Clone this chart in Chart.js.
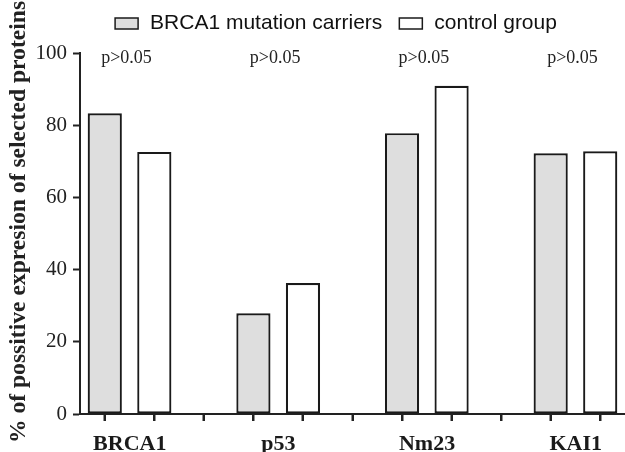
<!DOCTYPE html>
<html>
<head>
<meta charset="utf-8">
<script src="https://cdn.jsdelivr.net/npm/chart.js@4"></script>
<style>
  html, body { margin: 0; padding: 0; background: #fff; }
  #wrap { width: 625px; height: 452px; }
</style>
</head>
<body>
<div id="wrap"><canvas id="bar-chart"></canvas></div>
<script>
const groups = ["BRCA1", "p53", "Nm23", "KAI1"];
const carriers = [83.3, 27.9, 77.8, 72.2];
const controls = [72.6, 36.3, 90.9, 72.8];
const pValues = ["p>0.05", "p>0.05", "p>0.05", "p>0.05"];
const yTicks = [0, 20, 40, 60, 80, 100];

// each group takes 3 slots: carriers, control, gap (last gap dropped)
const slots = [];
const carrierSlots = [];
const controlSlots = [];
groups.forEach((g, i) => {
  slots.push(g + " carriers", g + " control", "");
  carrierSlots.push(carriers[i], null, null);
  controlSlots.push(null, controls[i], null);
});
slots.pop(); carrierSlots.pop(); controlSlots.pop();

// p-value labels above each pair
const pLabelPlugin = {
  id: "pLabels",
  afterDatasetsDraw(chart) {
    const ctx = chart.ctx;
    const x = chart.scales.x;
    ctx.save();
    ctx.font = "18px 'Liberation Serif'";
    ctx.fillStyle = "#222";
    ctx.textAlign = "center";
    ctx.textBaseline = "alphabetic";
    pValues.forEach((p, i) => {
      const cx = (x.getPixelForValue(i * 3) + x.getPixelForValue(i * 3 + 1)) / 2;
      ctx.fillText(p, cx - 3, chart.chartArea.top + 10);
    });
    ctx.restore();
  }
};

// x tick marks under every slot
const slotTickPlugin = {
  id: "slotTicks",
  afterDraw(chart) {
    const ctx = chart.ctx;
    const x = chart.scales.x;
    const b = chart.chartArea.bottom;
    ctx.save();
    ctx.strokeStyle = "#222";
    ctx.lineWidth = 2;
    slots.forEach((s, i) => {
      const px = Math.round(x.getPixelForValue(i));
      ctx.beginPath();
      ctx.moveTo(px, b);
      ctx.lineTo(px, b + 7);
      ctx.stroke();
    });
    ctx.restore();
  }
};

const yTitlePlugin = {
  id: "yTitle",
  afterDraw(chart) {
    const ctx = chart.ctx;
    ctx.save();
    ctx.translate(19, 222);
    ctx.rotate(-Math.PI / 2);
    ctx.font = "bold 23.6px 'Liberation Serif'";
    ctx.fillStyle = "#222";
    ctx.textAlign = "center";
    ctx.textBaseline = "middle";
    ctx.fillText("% of possitive expresion of selected proteins", 0, 0);
    ctx.restore();
  }
};

// legend row at the top, built from the datasets
const legendPlugin = {
  id: "topLegend",
  afterDraw(chart) {
    const ctx = chart.ctx;
    const sets = chart.data.datasets;
    ctx.save();
    ctx.font = "21px 'Liberation Sans'";
    const boxW = 23, boxH = 11, gapText = 12, gapItem = 17;
    let total = 0;
    sets.forEach((d, i) => {
      total += boxW + gapText + ctx.measureText(d.label).width;
      if (i < sets.length - 1) total += gapItem;
    });
    let xPos = 336 - total / 2;
    const base = 29;
    sets.forEach((d) => {
      ctx.fillStyle = d.backgroundColor;
      ctx.fillRect(xPos, base - boxH, boxW, boxH);
      ctx.strokeStyle = d.borderColor;
      ctx.lineWidth = 1.5;
      ctx.strokeRect(xPos, base - boxH, boxW, boxH);
      xPos += boxW + gapText;
      ctx.fillStyle = "#111";
      ctx.textBaseline = "alphabetic";
      ctx.fillText(d.label, xPos, base);
      xPos += ctx.measureText(d.label).width + gapItem;
    });
    ctx.restore();
  }
};

new Chart(document.getElementById("bar-chart"), {
  type: "bar",
  data: {
    labels: slots,
    datasets: [
      {
        label: "BRCA1 mutation carriers",
        data: carrierSlots,
        backgroundColor: "#dedede",
        borderColor: "#1a1a1a",
        borderWidth: 2.2,
        borderSkipped: false
      },
      {
        label: "control group",
        data: controlSlots,
        backgroundColor: "#ffffff",
        borderColor: "#1a1a1a",
        borderWidth: 2.2,
        borderSkipped: false
      }
    ]
  },
  plugins: [pLabelPlugin, slotTickPlugin, yTitlePlugin, legendPlugin],
  options: {
    responsive: true,
    maintainAspectRatio: false,
    animation: false,
    layout: { padding: { left: 29.5, right: 0, top: 53, bottom: -15 } },
    datasets: {
      bar: { grouped: false, barPercentage: 0.69, categoryPercentage: 1 }
    },
    plugins: {
      tooltip: { enabled: false },
      legend: { display: false }
    },
    scales: {
      x: {
        grid: {
          display: true,
          offset: false,
          drawOnChartArea: false,
          drawTicks: true,
          tickLength: 7,
          tickWidth: 2,
          tickColor: "#222"
        },
        border: { display: true, color: "#222", width: 2 },
        ticks: {
          autoSkip: false,
          maxRotation: 0,
          labelOffset: 25,
          padding: 12,
          color: "#1a1a1a",
          font: { family: "'Liberation Serif'", size: 22, weight: "bold", lineHeight: 1 },
          callback: (v, i) => (i % 3 === 0 ? groups[i / 3] : "")
        }
      },
      y: {
        min: 0,
        max: 100,
        afterBuildTicks: (axis) => { axis.ticks = yTicks.map(v => ({ value: v })); },
        grid: {
          display: true,
          drawOnChartArea: false,
          drawTicks: true,
          tickLength: 7,
          tickWidth: 2,
          tickColor: "#222"
        },
        border: { display: true, color: "#222", width: 2 },
        ticks: {
          padding: 6,
          color: "#222",
          font: { family: "'Liberation Serif'", size: 21 }
        }
      }
    }
  }
});
</script>
</body>
</html>
